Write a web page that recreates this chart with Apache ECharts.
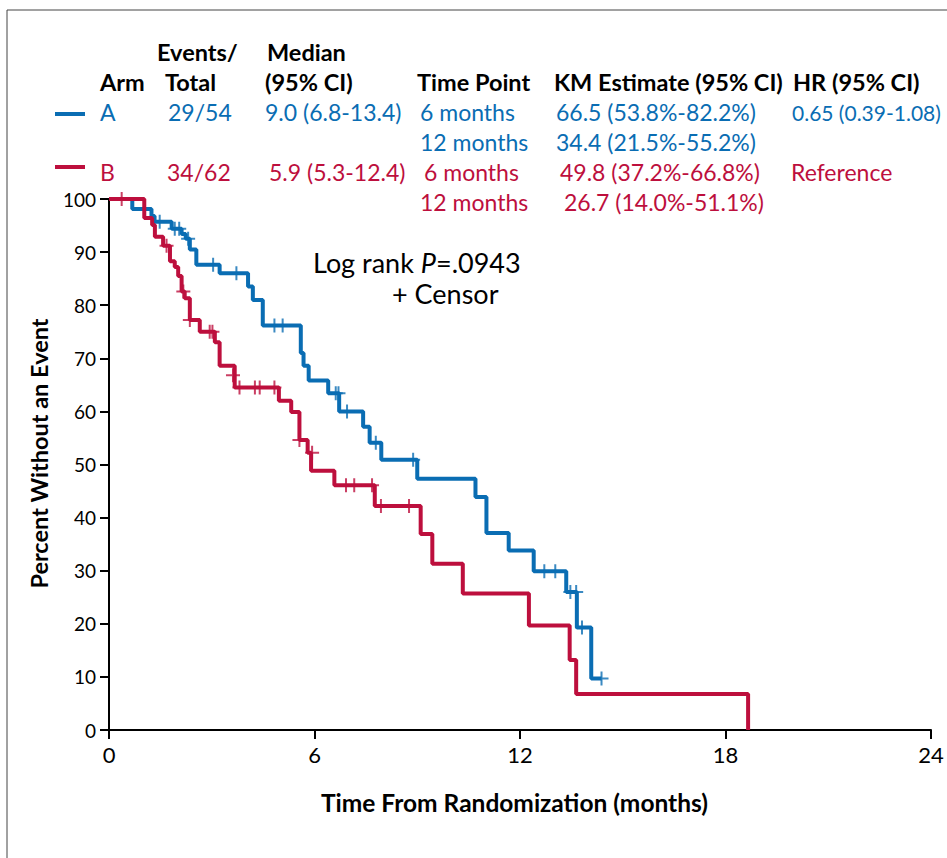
<!DOCTYPE html>
<html>
<head>
<meta charset="utf-8">
<script src="https://cdn.jsdelivr.net/npm/echarts@6/dist/echarts.min.js"></script>
<style>
html,body{margin:0;padding:0;background:#fff;}
#chart{width:947px;height:858px;}
</style>
</head>
<body>
<div id="chart"></div>
<script>
// ---- Data ----
const armATimes = [0, 0.68, 1.24, 1.33, 1.83, 2.12, 2.24, 2.36, 2.55, 3.23, 4.06, 4.20, 4.49, 5.60, 5.68, 5.83, 6.40, 6.72, 7.42, 7.61, 7.95, 9.00, 10.70, 11.02, 11.67, 12.40, 13.35, 13.66, 14.08, 14.38];
const armAValues = [100, 98.1, 96.8, 95.7, 94.4, 93.4, 92.5, 90.5, 87.6, 86.0, 83.5, 81.0, 76.2, 71.0, 68.6, 65.8, 63.4, 60.0, 57.1, 54.1, 50.9, 47.3, 43.9, 37.1, 33.8, 29.9, 26.0, 19.3, 9.7, 9.7];
const armACensorTimes = [1.48, 1.92, 2.05, 2.31, 3.04, 3.72, 4.83, 5.07, 6.62, 6.70, 6.95, 7.79, 8.88, 12.71, 13.03, 13.47, 13.64, 13.81, 14.38];
const armACensorValues = [95.7, 94.4, 94.4, 92.5, 87.6, 86.0, 76.2, 76.2, 63.4, 63.4, 60.0, 54.1, 50.9, 29.9, 29.9, 26.0, 26.0, 19.3, 9.7];

const armBTimes = [0, 1.03, 1.26, 1.34, 1.58, 1.78, 1.92, 2.02, 2.12, 2.21, 2.36, 2.65, 3.09, 3.23, 3.67, 4.96, 5.32, 5.56, 5.80, 5.90, 6.58, 7.76, 9.10, 9.44, 10.33, 12.26, 13.45, 13.64, 18.66];
const armBValues = [100, 96.4, 95.1, 92.9, 91.2, 88.3, 87.2, 85.5, 82.6, 81.3, 77.2, 75.0, 73.0, 68.6, 64.5, 62.0, 59.9, 54.6, 52.2, 48.8, 46.1, 42.2, 36.9, 31.3, 25.7, 19.7, 13.2, 6.8, 0];
const armBCensorTimes = [0.37, 1.68, 2.17, 2.36, 2.94, 3.02, 3.62, 3.81, 4.26, 4.40, 4.83, 5.56, 5.93, 6.92, 7.16, 7.68, 7.94, 8.76];
const armBCensorValues = [100, 91.2, 82.6, 77.2, 75.0, 75.0, 66.8, 64.5, 64.5, 64.5, 64.5, 54.6, 52.2, 46.1, 46.1, 46.1, 42.2, 42.2];

const xTicks = [0, 6, 12, 18, 24];
const yTicks = [0, 10, 20, 30, 40, 50, 60, 70, 80, 90, 100];

const armNames = ['A', 'B'];
const eventsTotal = ['29/54', '34/62'];
const medians = ['9.0 (6.8-13.4)', '5.9 (5.3-12.4)'];
const timePoints = [['6 months', '12 months'], ['6 months', '12 months']];
const kmEstimates = [['66.5 (53.8%-82.2%)', '34.4 (21.5%-55.2%)'], ['49.8 (37.2%-66.8%)', '26.7 (14.0%-51.1%)']];
const hazardRatios = ['0.65 (0.39-1.08)', 'Reference'];
const logRankText = '.0943';

// ---- Styles ----
const BLUE = '#0a6db3';
const RED = '#bd0f3d';
const FONT = 'Lato, "Open Sans", sans-serif';
const colors = [BLUE, RED];
const BODY = 23, HEAD = 23.5;

function pairs(t, v) { return t.map((x, i) => [x, v[i]]); }

const plusPath = 'path://M-1,-7 L1,-7 L1,-1 L7,-1 L7,1 L1,1 L1,7 L-1,7 L-1,1 L-7,1 L-7,-1 L-1,-1 Z';

function txt(x, y, text, fill, opts) {
  opts = opts || {};
  return {
    type: 'text', x: x, y: y, silent: true,
    style: {
      text: text, fill: fill,
      font: (opts.bold ? 'bold ' : '') + (opts.size || BODY) + 'px ' + FONT,
      textAlign: opts.align || 'left', textVerticalAlign: 'middle'
    }
  };
}

const graphics = [];
// frame
graphics.push({ type: 'polyline', silent: true, shape: { points: [[7, 858], [7, 10], [947, 10]] }, style: { stroke: '#444', lineWidth: 1, fill: null } });
// header
const H = { bold: true, size: HEAD };
graphics.push(txt(157, 52, 'Events/', '#000', H));
graphics.push(txt(267, 52, 'Median', '#000', H));
graphics.push(txt(100, 82, 'Arm', '#000', H));
graphics.push(txt(165, 82, 'Total', '#000', H));
graphics.push(txt(265, 82, '(95% CI)', '#000', H));
graphics.push(txt(417, 82, 'Time Point', '#000', H));
graphics.push(txt(554, 82, 'KM Estimate (95% CI)', '#000', H));
graphics.push(txt(793, 82, 'HR (95% CI)', '#000', H));
// rows
const rowY = [112, 172];
const colX = {
  arm: [100, 100], ev: [168, 167], med: [265, 269], tp: [[420, 420], [424, 420]],
  km: [[556, 556], [560, 564]], hr: [792, 791]
};
const hrSize = [21, BODY];
const legendY = [114, 167];
for (let i = 0; i < 2; i++) {
  const c = colors[i], y = rowY[i];
  graphics.push({ type: 'line', silent: true, shape: { x1: 55, y1: legendY[i], x2: 85, y2: legendY[i] }, style: { stroke: c, lineWidth: 4 } });
  graphics.push(txt(colX.arm[i], y, armNames[i], c));
  graphics.push(txt(colX.ev[i], y, eventsTotal[i], c));
  graphics.push(txt(colX.med[i], y, medians[i], c));
  graphics.push(txt(colX.tp[i][0], y, timePoints[i][0], c));
  graphics.push(txt(colX.tp[i][1], y + 30, timePoints[i][1], c));
  graphics.push(txt(colX.km[i][0], y, kmEstimates[i][0], c));
  graphics.push(txt(colX.km[i][1], y + 30, kmEstimates[i][1], c));
  graphics.push(txt(colX.hr[i], y, hazardRatios[i], c, { size: hrSize[i] }));
}
// annotation
graphics.push({
  type: 'text', x: 313, y: 262, silent: true,
  style: {
    text: '{n|Log rank }{i|P}{n|=' + logRankText + '}',
    textVerticalAlign: 'middle',
    rich: {
      n: { font: '27px ' + FONT, fill: '#000' },
      i: { font: 'italic 27px ' + FONT, fill: '#000' }
    }
  }
});
graphics.push(txt(392, 293, '+ Censor', '#000', { size: 27 }));

const chart = echarts.init(document.getElementById('chart'), null, { renderer: 'svg' });
chart.setOption({
  animation: false,
  backgroundColor: '#fff',
  grid: { left: 109, top: 199, width: 822, height: 531, containLabel: false },
  xAxis: {
    type: 'value', min: xTicks[0], max: xTicks[xTicks.length - 1], interval: 6,
    name: 'Time From Randomization (months)', nameLocation: 'middle', nameGap: 60,
    nameTextStyle: { fontFamily: FONT, fontWeight: 'bold', fontSize: 24.5, color: '#000', padding: [0, 11, 0, 0] },
    axisLine: { lineStyle: { color: '#000', width: 2 } },
    axisTick: { show: true, length: 9, lineStyle: { color: '#000', width: 2 } },
    axisLabel: { fontFamily: FONT, fontSize: 22, color: '#000', margin: 13 },
    splitLine: { show: false }
  },
  yAxis: {
    type: 'value', min: yTicks[0], max: yTicks[yTicks.length - 1], interval: 10,
    name: 'Percent Without an Event', nameLocation: 'middle', nameGap: 58,
    nameTextStyle: { fontFamily: FONT, fontWeight: 'bold', fontSize: 23.5, color: '#000', padding: [0, 0, 0, 22] },
    axisLine: { lineStyle: { color: '#000', width: 2 } },
    axisTick: { show: true, length: 9, lineStyle: { color: '#000', width: 2 } },
    axisLabel: { fontFamily: FONT, fontSize: 19, color: '#000', margin: 13 },
    splitLine: { show: false }
  },
  graphic: graphics,
  series: [
    { name: 'A', type: 'line', step: 'end', data: pairs(armATimes, armAValues), showSymbol: false, lineStyle: { color: BLUE, width: 4 }, z: 2 },
    { name: 'A censor', type: 'scatter', data: pairs(armACensorTimes, armACensorValues), symbol: plusPath, symbolSize: 14, itemStyle: { color: BLUE }, z: 3 },
    { name: 'B', type: 'line', step: 'end', data: pairs(armBTimes, armBValues), showSymbol: false, lineStyle: { color: RED, width: 4 }, z: 4 },
    { name: 'B censor', type: 'scatter', data: pairs(armBCensorTimes, armBCensorValues), symbol: plusPath, symbolSize: 14, itemStyle: { color: RED }, z: 5 }
  ]
});
</script>
</body>
</html>
